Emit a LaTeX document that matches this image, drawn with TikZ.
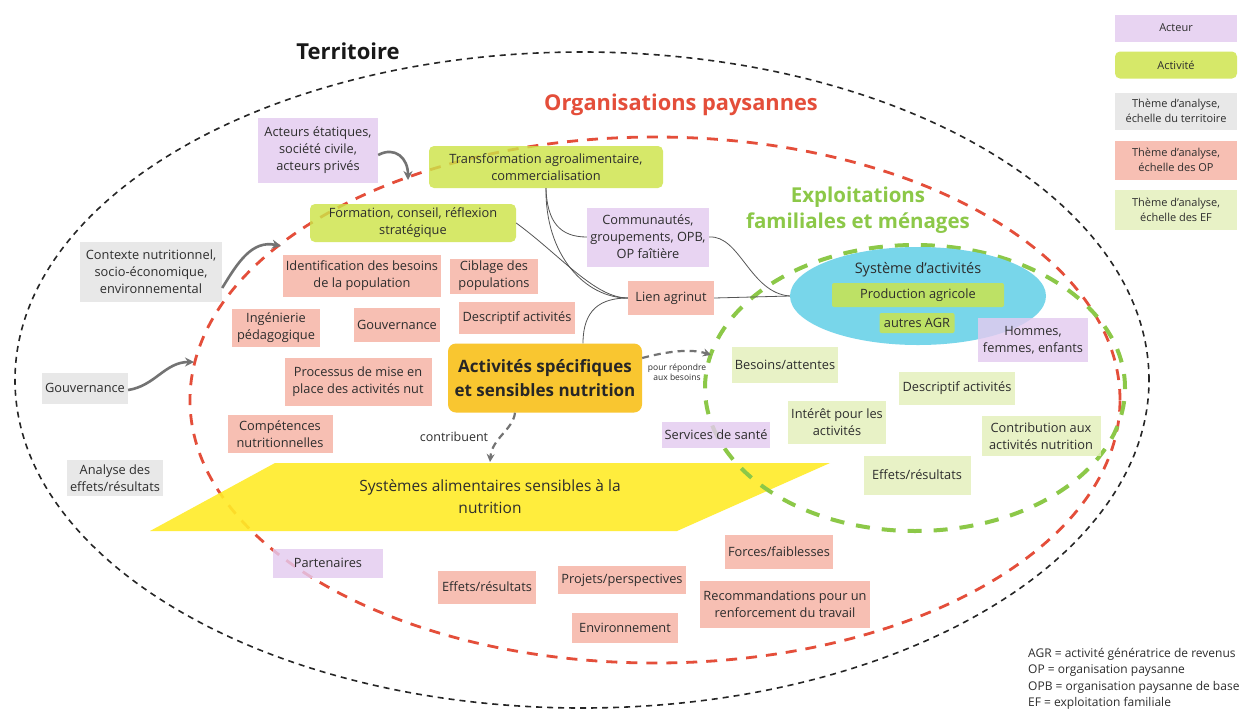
\documentclass[tikz,border=0pt]{standalone}
\usepackage{fontspec}
\setmainfont{Open Sans}
\usetikzlibrary{shapes.geometric,arrows.meta}
\definecolor{txt}{RGB}{45,45,45}
\definecolor{actc}{RGB}{228,203,240}
\definecolor{actvc}{RGB}{205,228,72}
\definecolor{terc}{RGB}{228,228,228}
\definecolor{opc}{RGB}{246,178,163}
\definecolor{efc}{RGB}{228,240,186}
\definecolor{orangec}{RGB}{249,198,48}
\definecolor{yellowc}{RGB}{255,236,40}
\definecolor{cyanc}{RGB}{120,214,234}
\definecolor{redc}{RGB}{228,78,58}
\definecolor{greenc}{RGB}{140,200,72}
\definecolor{arrc}{RGB}{115,115,115}
\definecolor{linec}{RGB}{85,85,85}
\tikzset{
 bx/.style={draw=none, align=center, inner xsep=3pt, inner ysep=2pt, font=\fontsize{12.8}{17}\selectfont, text=txt, fill opacity=0.82, text opacity=1},
 actor/.style={bx, fill=actc},
 activ/.style={bx, fill=actvc, rounded corners=5pt},
 terr/.style={bx, fill=terc},
 opth/.style={bx, fill=opc},
 efth/.style={bx, fill=efc},
 legd/.style={font=\fontsize{11}{15}\selectfont, minimum width=122pt},
 bigarrow/.style={draw=arrc, line width=2.6pt, -{Stealth[length=9pt,width=9pt]}},
 dasharrow/.style={draw=arrc, line width=2.2pt, dash pattern=on 7pt off 5pt, -{Stealth[length=8pt,width=8pt]}},
 thin/.style={draw=linec, line width=0.8pt},
}
\begin{document}
\begin{tikzpicture}[x=1pt,y=-1pt]
\useasboundingbox (0,0) rectangle (1251,713);
\fill[white] (0,0) rectangle (1251,713);

% big dashed ellipses
\draw[black!85, line width=1.6pt, dash pattern=on 6pt off 5pt] (582,380) ellipse [x radius=567pt, y radius=328pt];
\draw[redc, line width=2.8pt, dash pattern=on 11pt off 9pt] (655,400) ellipse [x radius=465pt, y radius=263pt];

% yellow parallelogram
\fill[yellowc, fill opacity=0.9] (275,463) -- (830,463) -- (677,531) -- (150,531) -- cycle;
\node[font=\fontsize{15.5}{22}\selectfont, text=txt, align=center] (sysal) at (490,497) {Systèmes alimentaires sensibles à la\\nutrition};

\draw[greenc, line width=4pt, dash pattern=on 14pt off 12pt] (915,388) ellipse [x radius=210pt, y radius=143pt];

% cyan ellipse
\node[ellipse, fill=cyanc, minimum width=256pt, minimum height=98pt, inner sep=0pt] (syst) at (918,296) {};
\node[font=\fontsize{14.5}{17}\selectfont, text=txt] (systlab) at (918,270) {Système d'activités};

% titles
\node[font=\fontsize{22}{26}\selectfont\bfseries, text=black!90] (terrlab) at (348,51) {Territoire};
\node[font=\fontsize{21.8}{26}\selectfont\bfseries, text=redc] (oplab) at (681,105) {Organisations paysannes};
\node[font=\fontsize{20.5}{26}\selectfont\bfseries, text=greenc, align=center] (eflab) at (858,210) {Exploitations\\familiales et ménages};

% legend
\node[actor, legd, minimum height=27pt] (legA) at (1176,28) {Acteur};
\node[activ, legd, minimum height=27pt] (legB) at (1176,65) {Activité};
\node[terr, legd, minimum height=37pt] (legC) at (1176,111) {Thème d'analyse,\\échelle du territoire};
\node[opth, legd, minimum height=39pt] (legD) at (1176,160) {Thème d'analyse,\\échelle des OP};
\node[efth, legd, minimum height=40pt] (legE) at (1176,210) {Thème d'analyse,\\échelle des EF};

% territory themes
\node[terr, minimum width=142pt, minimum height=60pt] (ctx) at (151,272) {Contexte nutritionnel,\\socio-économique,\\environnemental};
\node[terr, minimum width=85pt, minimum height=31pt] (gouvG) at (85,388) {Gouvernance};
\node[terr, minimum width=80pt, minimum height=36pt] (analyse) at (115,478) {Analyse des\\effets/résultats};

% actors
\node[actor, minimum width=120pt, minimum height=65pt] (acteurs) at (318,150) {Acteurs étatiques,\\société civile,\\acteurs privés};
\node[actor, minimum width=122pt, minimum height=59pt] (commu) at (648,237) {Communautés,\\groupements, OPB,\\OP faîtière};
\node[actor, minimum width=107pt, minimum height=26pt] (sante) at (716,435) {Services de santé};
\node[actor, minimum width=110pt, minimum height=29pt] (parten) at (328,563) {Partenaires};

% activities
\node[activ, minimum width=234pt, minimum height=42pt] (transfo) at (546,167) {Transformation agroalimentaire,\\commercialisation};
\node[activ, minimum width=206pt, minimum height=38pt] (formation) at (413,223) {Formation, conseil, réflexion\\stratégique};
\node[activ, minimum width=172pt, minimum height=24pt, rounded corners=2pt] (prod) at (918,295) {Production agricole};
\node[activ, minimum width=75pt, minimum height=20pt, rounded corners=2pt] (agr) at (917,323) {autres AGR};
\node[actor, minimum width=110pt, minimum height=44pt] (hommes) at (1033,340) {Hommes,\\femmes, enfants};

% OP themes
\node[opth, minimum width=150pt, minimum height=42pt] (ident) at (362,276) {Identification des besoins\\de la population};
\node[opth, minimum width=88pt, minimum height=35pt] (ciblage) at (494,276) {Ciblage des\\populations};
\node[opth, minimum width=88pt, minimum height=38pt] (ingen) at (276,328) {Ingénierie\\pédagogique};
\node[opth, minimum width=85pt, minimum height=34pt] (gouvOP) at (397,325) {Gouvernance};
\node[opth, minimum width=116pt, minimum height=32pt] (descOP) at (517,318) {Descriptif activités};
\node[opth, minimum width=86pt, minimum height=34pt] (lien) at (671,298) {Lien agrinut};
\node[opth, minimum width=147pt, minimum height=48pt] (process) at (358,382) {Processus de mise en\\place des activités nut};
\node[opth, minimum width=105pt, minimum height=38pt] (compet) at (280,434) {Compétences\\nutritionnelles};
\node[opth, minimum width=98pt, minimum height=33pt] (effOP) at (487,587) {Effets/résultats};
\node[opth, minimum width=126pt, minimum height=28pt] (projets) at (622,580) {Projets/perspectives};
\node[opth, minimum width=106pt, minimum height=30pt] (envir) at (625,628) {Environnement};
\node[opth, minimum width=106pt, minimum height=34pt] (forces) at (779,552) {Forces/faiblesses};
\node[opth, minimum width=166pt, minimum height=47pt] (recom) at (785,604) {Recommandations pour un\\renforcement du travail};

% EF themes
\node[efth, minimum width=105pt, minimum height=36pt] (besoins) at (785,365) {Besoins/attentes};
\node[efth, minimum width=116pt, minimum height=33pt] (descEF) at (957,388) {Descriptif activités};
\node[efth, minimum width=95pt, minimum height=43pt] (interet) at (837,422) {Intérêt pour les\\activités};
\node[efth, minimum width=119pt, minimum height=40pt] (contrib) at (1041,436) {Contribution aux\\activités nutrition};
\node[efth, minimum width=107pt, minimum height=39pt] (effEF) at (917,475) {Effets/résultats};

% main box
\node[bx, fill=orangec, fill opacity=1, rounded corners=8pt, minimum width=194pt, minimum height=69pt, font=\fontsize{17}{24}\selectfont\bfseries, text=black!85] (main) at (545,378) {Activités spécifiques\\et sensibles nutrition};

% thin connectors
\draw[thin] (transfo.south) .. controls (545,255) and (585,298) .. (lien.west);
\draw[thin] (transfo.south) .. controls (547,222) and (560,237) .. (commu.west);
\draw[thin] (formation.east) .. controls (560,255) and (595,298) .. (lien.west);
\draw[thin] ([xshift=38pt]main.north) .. controls (583,310) and (600,298) .. (lien.west);
\draw[thin] (lien.east) -- (syst.west);
\draw[thin] (commu.east) .. controls (740,235) and (750,293) .. (syst.west);

% big gray arrows
\coordinate (tipA) at (408,180);
\coordinate (tipB) at (281,246);
\coordinate (tipC) at (194,362);
\draw[bigarrow] ([yshift=-5pt]acteurs.east) .. controls (395,146) and (408,158) .. (tipA);
\draw[bigarrow] ([yshift=-16pt]ctx.east) .. controls (238,262) and (252,240) .. (tipB);
\draw[bigarrow] ([yshift=-2pt]gouvG.east) .. controls (155,386) and (165,362) .. (tipC);

% dashed arrows
\coordinate (tipD) at (711,355);
\coordinate (tipE) at (490,462);
\draw[dasharrow] ([yshift=20pt]main.east) .. controls (665,352) and (690,348) .. (tipD);
\draw[dasharrow] ([xshift=-30pt]main.south) .. controls (513,430) and (492,438) .. (tipE);
\node[font=\fontsize{8.5}{10}\selectfont, text=txt, align=center] (pourlab) at (677,372) {pour répondre\\aux besoins};
\node[font=\fontsize{12.5}{14}\selectfont, text=txt] (contrlab) at (454,437) {contribuent};

% footnote
\node[font=\fontsize{12}{16.5}\selectfont, text=txt, align=left, anchor=north west, inner sep=0pt] (foot) at (1028,648) {AGR = activité génératrice de revenus\\OP = organisation paysanne\\OPB = organisation paysanne de base\\EF = exploitation familiale};
\end{tikzpicture}
\end{document}
